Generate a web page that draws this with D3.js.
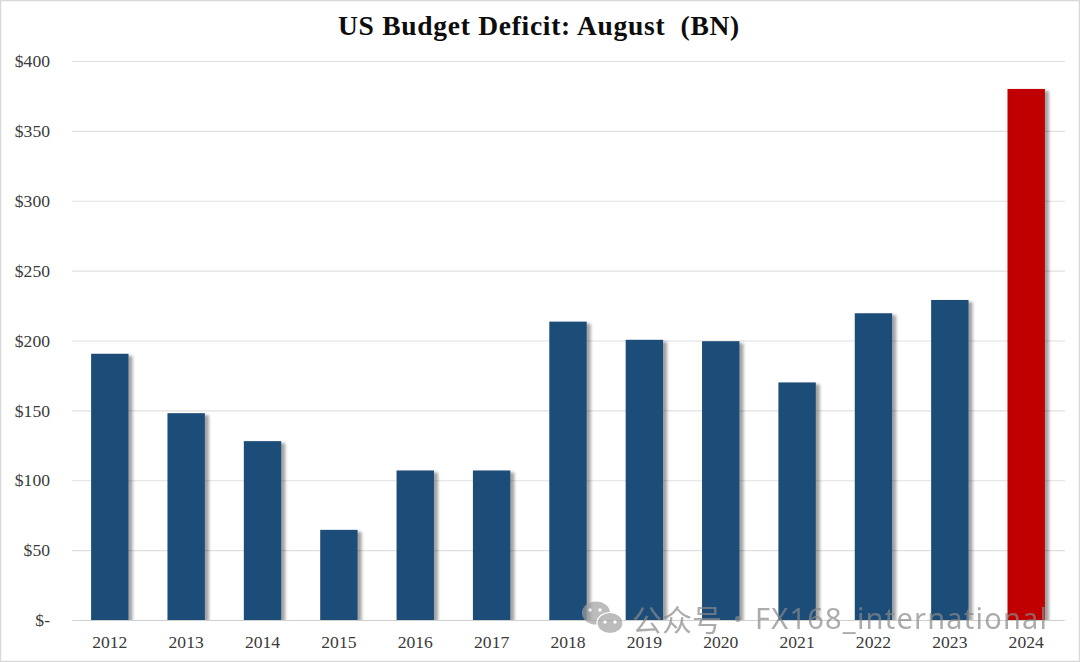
<!DOCTYPE html>
<html>
<head>
<meta charset="utf-8">
<script src="https://cdn.jsdelivr.net/npm/d3@7"></script>
<style>
  html, body { margin: 0; padding: 0; background: #fff; }
  svg { display: block; }
  text { font-family: "Liberation Serif", serif; }
</style>
</head>
<body>
<div id="chart"></div>
<script>
const years = ["2012","2013","2014","2015","2016","2017","2018","2019","2020","2021","2022","2023","2024"];
const deficit = [190.5,148,128,64.5,107,107,213.5,200.5,199.5,170,219.5,229,380];
const yTicks = [0,50,100,150,200,250,300,350,400];

const width = 1080, height = 662;
const margin = {top: 61, right: 15, bottom: 42, left: 72};

const svg = d3.select("#chart").append("svg")
    .attr("width", width)
    .attr("height", height);

//bars stop a little short of the right end of the gridlines
const x = d3.scaleBand()
    .domain(years)
    .range([margin.left, width - margin.right - 1])
    .paddingInner(0.51)
    .paddingOuter(0.25);

const y = d3.scaleLinear()
    .domain([0, 400])
    .range([height - margin.bottom, margin.top]);

//soft shadow on the right side of the bars
const defs = svg.append("defs");
const shadow = defs.append("filter")
    .attr("id", "barShadow")
    .attr("x", "-20%").attr("y", "-5%")
    .attr("width", "160%").attr("height", "110%");
shadow.append("feDropShadow")
    .attr("dx", 4).attr("dy", 2)
    .attr("stdDeviation", 1.8)
    .attr("flood-color", "#000")
    .attr("flood-opacity", 0.36);

//keeps the shadows from spilling under the axis
defs.append("clipPath")
    .attr("id", "plotClip")
    .append("rect")
    .attr("x", 0).attr("y", 0)
    .attr("width", width).attr("height", y(0));

//outer frame
svg.append("rect")
    .attr("x", 0.5).attr("y", 0.5)
    .attr("width", width - 1).attr("height", height - 1)
    .attr("fill", "none")
    .attr("stroke", "#d9d9d9")
    .attr("stroke-width", 1.5);

//y axis with gridlines
const yAxis = svg.append("g")
    .attr("transform", "translate(" + margin.left + ",0)")
    .call(d3.axisLeft(y)
        .tickValues(yTicks)
        .tickSize(-(width - margin.left - margin.right))
        .tickPadding(22)
        .tickFormat(d => d === 0 ? "$-" : "$" + d));
yAxis.select(".domain").remove();
yAxis.selectAll("line").attr("stroke", "#e0e0e0").attr("stroke-width", 1.2);
yAxis.selectAll("text")
    .attr("fill", "#3a3a3a")
    .style("font-size", "17.6px")
    .style("font-family", "'Liberation Serif', serif");

//bars
svg.append("g")
    .attr("clip-path", "url(#plotClip)")
    .selectAll("rect")
    .data(years)
    .enter()
    .append("rect")
        .attr("x", d => x(d))
        .attr("y", (d, i) => y(deficit[i]))
        .attr("width", x.bandwidth())
        .attr("height", (d, i) => y(0) - y(deficit[i]))
        .attr("fill", d => d === "2024" ? "#c00000" : "#1f4e79")
        .attr("filter", "url(#barShadow)");

//x axis labels
const xAxis = svg.append("g")
    .attr("transform", "translate(0," + y(0) + ")")
    .call(d3.axisBottom(x).tickSize(0).tickPadding(16));
xAxis.select(".domain").attr("stroke", "#d0d0d0").attr("stroke-width", 1.2);
xAxis.selectAll("text")
    .attr("fill", "#3a3a3a")
    .style("font-size", "17.6px")
    .style("font-family", "'Liberation Serif', serif");

//title
svg.append("text")
    .attr("x", 539)
    .attr("y", 35)
    .attr("text-anchor", "middle")
    .attr("font-weight", "bold")
    .attr("font-size", 27.5)
    .attr("letter-spacing", 0.72)
    .attr("fill", "#0d0d0d")
    .style("white-space", "pre")
    .text("US Budget Deficit: August  (BN)");

//watermark
const markFill = "#8a8a8a";
const mark = svg.append("g").attr("opacity", 0.7);
mark.append("ellipse").attr("cx", 596).attr("cy", 613).attr("rx", 14).attr("ry", 11.5).attr("fill", "#a0a0a0");
mark.append("ellipse").attr("cx", 610).attr("cy", 623).attr("rx", 13).attr("ry", 10.5).attr("fill", "#a0a0a0").attr("stroke", "#fff").attr("stroke-width", 1.2);
mark.selectAll("circle.eye")
    .data([[590, 610], [600, 610], [605, 622], [615, 622]])
    .enter()
    .append("circle")
        .attr("class", "eye")
        .attr("cx", d => d[0])
        .attr("cy", d => d[1])
        .attr("r", 1.7)
        .attr("fill", "#fff");
mark.append("text")
    .attr("x", 632)
    .attr("y", 631)
    .attr("fill", markFill)
    .attr("font-size", 30)
    .style("font-family", "'Noto Sans CJK SC', 'Noto Sans', sans-serif")
    .text("公众号");
mark.append("text")
    .attr("x", 724)
    .attr("y", 630)
    .attr("fill", markFill)
    .attr("font-size", 28)
    .style("font-family", "'Noto Sans CJK SC', 'Noto Sans', sans-serif")
    .text("·");
mark.append("text")
    .attr("x", 755)
    .attr("y", 629)
    .attr("fill", markFill)
    .attr("font-size", 29)
    .attr("textLength", 292)
    .style("font-family", "'Noto Sans', sans-serif")
    .text("FX168_international");
</script>
</body>
</html>
